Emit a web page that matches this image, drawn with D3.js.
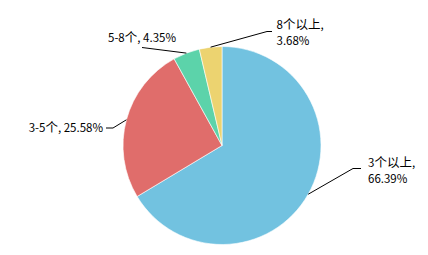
<!DOCTYPE html>
<html>
<head>
<meta charset="utf-8">
<script src="https://cdn.jsdelivr.net/npm/d3@7"></script>
<style>
  body { margin: 0; background: #fff; }
  text { font-family: "Noto Sans CJK SC", "DejaVu Sans", sans-serif; font-size: 11.5px; fill: #000; }
  .cjk { font-size: 12.5px; }
</style>
</head>
<body>
<script>
// data
const categories = ["3个以上", "3-5个", "5-8个", "8个以上"];
const values = [66.39, 25.58, 4.35, 3.68];
const colors = ["#72C2E0", "#E06D6B", "#5CD3AA", "#ECD370"];

const w = 428;
const h = 255;
const cx = 222;
const cy = 145.5;
const radius = 99;

// label layout: elbow point of leader line, text anchor and lines
const labelLayout = [
  { elbow: [353, 168.5], end: [361, 168.5], tx: 368, ty: 167, anchor: "start", lines: 2 },
  { elbow: [113, 128], end: [106, 128], tx: 103, ty: 131.5, anchor: "end", lines: 1 },
  { elbow: [142, 47.5], end: null, tx: 142, ty: 42, anchor: "middle", lines: 1 },
  { elbow: [267, 31.5], end: [272, 31.5], tx: 276.5, ty: 29, anchor: "start", lines: 2 }
];

const data = categories.map((c, i) => ({ name: c, value: values[i], color: colors[i] }));

const svg = d3.select("body").append("svg").attr("width", w).attr("height", h);
const g = svg.append("g").attr("transform", `translate(${cx},${cy})`);

const pie = d3.pie().sort(null).value((d) => d.value);
const arc = d3.arc().innerRadius(0).outerRadius(radius);
const arcs = pie(data);

g.selectAll("path")
  .data(arcs)
  .enter()
  .append("path")
  .attr("d", arc)
  .style("fill", (d) => d.data.color)
  .style("stroke", "#fff")
  .style("stroke-width", 0.6);

// write a string into a text/tspan, CJK runs a bit larger
function addRuns(sel, str) {
  str.split(/([\u4e00-\u9fff]+)/).forEach((part) => {
    if (!part) return;
    const s = sel.append("tspan").text(part);
    if (/[\u4e00-\u9fff]/.test(part)) s.attr("class", "cjk");
  });
}

// leader lines + labels
arcs.forEach((a, i) => {
  const lay = labelLayout[i];
  const mid = (a.startAngle + a.endAngle) / 2;
  const px = cx + radius * Math.sin(mid);
  const py = cy - radius * Math.cos(mid);
  const pts = [[px, py], lay.elbow];
  if (lay.end) pts.push(lay.end);
  svg.append("path")
    .attr("d", d3.line()(pts))
    .style("fill", "none")
    .style("stroke", "#000")
    .style("stroke-width", 1);

  const pct = a.data.value.toFixed(2) + "%";
  if (lay.lines === 2) {
    const t1 = svg.append("text").attr("x", lay.tx).attr("y", lay.ty).attr("text-anchor", lay.anchor);
    addRuns(t1, a.data.name + ",");
    svg.append("text").attr("x", lay.tx).attr("y", lay.ty + 16).attr("text-anchor", lay.anchor).text(pct);
  } else {
    const t = svg.append("text").attr("x", lay.tx).attr("y", lay.ty).attr("text-anchor", lay.anchor);
    addRuns(t, a.data.name + ", " + pct);
  }
});
</script>
</body>
</html>
